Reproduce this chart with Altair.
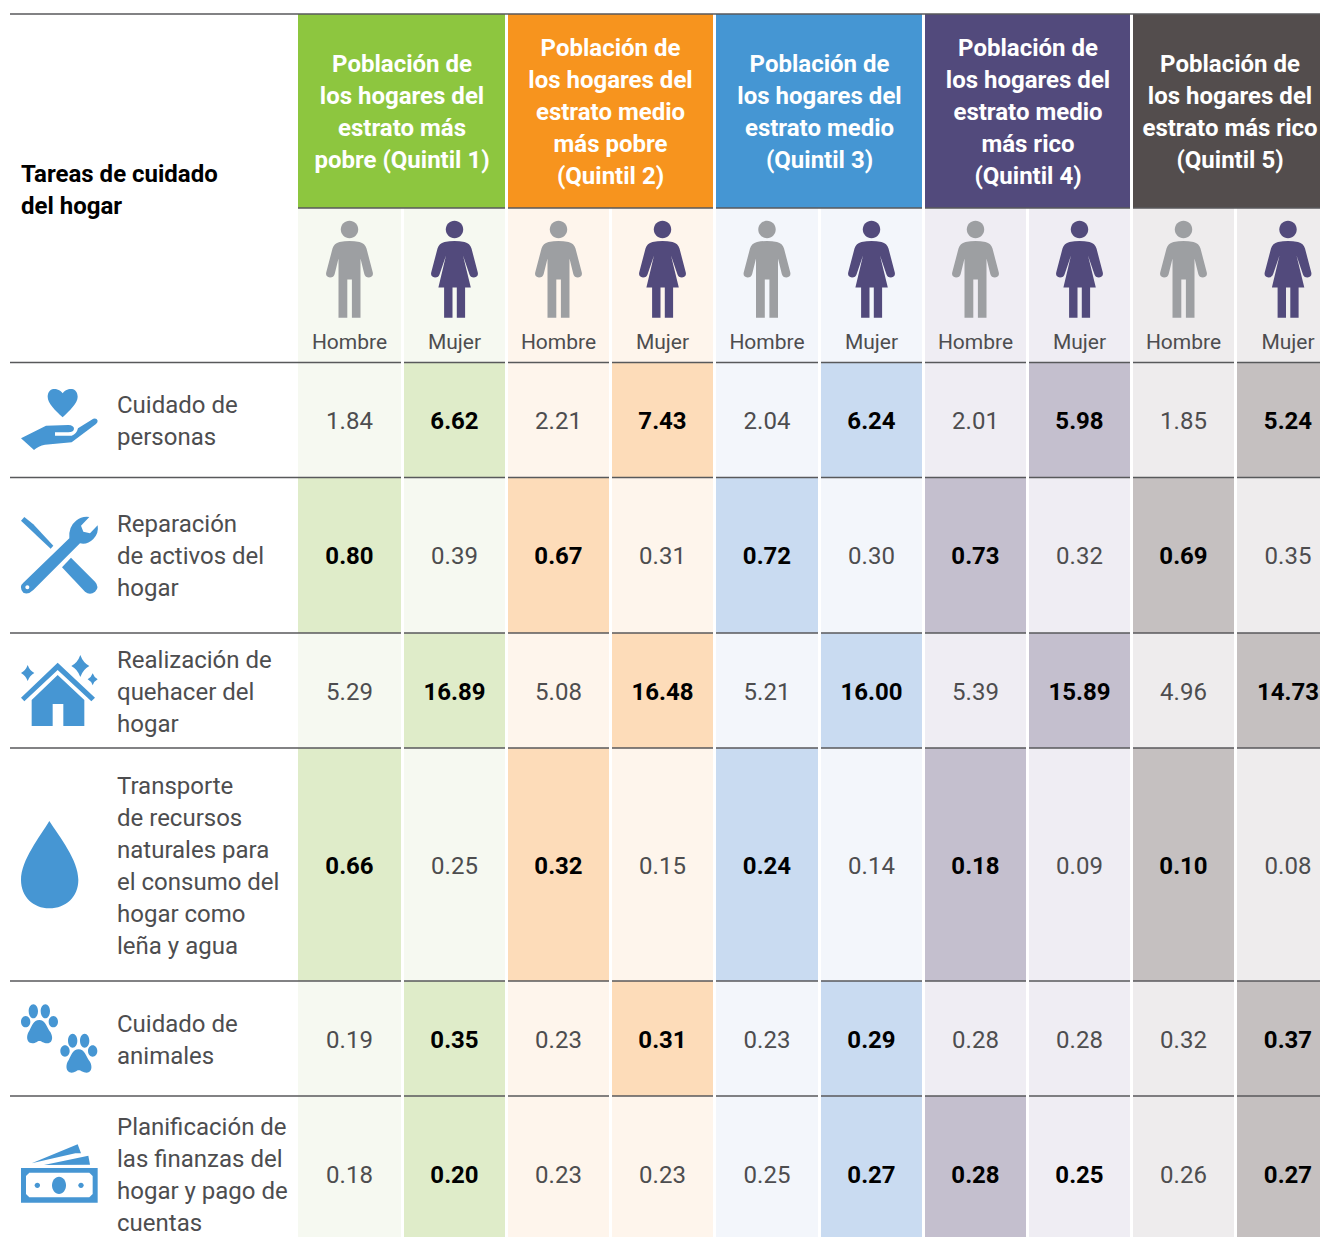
import re
import altair as alt
import pandas as pd

# ---------- content ----------
title_lines = ["Tareas de cuidado", "del hogar"]
quintile_lines = [
    ["Población de", "los hogares del", "estrato más", "pobre (Quintil 1)"],
    ["Población de", "los hogares del", "estrato medio", "más pobre", "(Quintil 2)"],
    ["Población de", "los hogares del", "estrato medio", "(Quintil 3)"],
    ["Población de", "los hogares del", "estrato medio", "más rico", "(Quintil 4)"],
    ["Población de", "los hogares del", "estrato más rico", "(Quintil 5)"],
]
sexes = ["Hombre", "Mujer"]
task_lines = [
    ["Cuidado de", "personas"],
    ["Reparación", "de activos del", "hogar"],
    ["Realización de", "quehacer del", "hogar"],
    ["Transporte", "de recursos", "naturales para", "el consumo del", "hogar como", "leña y agua"],
    ["Cuidado de", "animales"],
    ["Planificación de", "las finanzas del", "hogar y pago de", "cuentas"],
]
# rows: tasks; columns: Q1 H, Q1 M, Q2 H, Q2 M ... Q5 H, Q5 M
values = [
    [1.84, 6.62, 2.21, 7.43, 2.04, 6.24, 2.01, 5.98, 1.85, 5.24],
    [0.80, 0.39, 0.67, 0.31, 0.72, 0.30, 0.73, 0.32, 0.69, 0.35],
    [5.29, 16.89, 5.08, 16.48, 5.21, 16.00, 5.39, 15.89, 4.96, 14.73],
    [0.66, 0.25, 0.32, 0.15, 0.24, 0.14, 0.18, 0.09, 0.10, 0.08],
    [0.19, 0.35, 0.23, 0.31, 0.23, 0.29, 0.28, 0.28, 0.32, 0.37],
    [0.18, 0.20, 0.23, 0.23, 0.25, 0.27, 0.28, 0.25, 0.26, 0.27],
]
bold_extra = [(5, 7)]  # bold although it is the smaller value of its pair

# ---------- style ----------
FONT = "Roboto"
head_colors = ["#8dc63f", "#f7941e", "#4596d3", "#524a7c", "#534d4d"]
tint_colors = ["#f6f9f1", "#fef5ec", "#f3f6fb", "#efedf3", "#eeeced"]
high_colors = ["#dfecc9", "#fddcb9", "#c9dbf1", "#c4bfce", "#c5c0c0"]
ICON_BLUE = "#4696d3"
MAN = "#9d9fa2"
WOMAN = "#524a7c"
RULE = "#58595b"
TXT = "#4d4d4f"

# ---------- layout (image pixels) ----------
W, H = 1312, 1229
col_edges = [(298, 401), (404, 505), (508, 609), (612, 713), (716, 818),
             (821, 922), (925, 1026), (1029, 1130), (1133, 1234), (1237, 1328)]
group_edges = [(298, 505), (508, 713), (716, 922), (925, 1130), (1133, 1328)]
group_text_x = [402, 610.5, 819.5, 1028, 1230]
TOP, HEAD_B, SUB_B = 14, 208, 362.5
row_edges = [362.5, 477.5, 633, 748, 981, 1096, 1252]
LINE = 32
ICON_X = 59
DY = 2


def move(path, scale, x0, y0, ax, ay):
    """Rescale an icon drawn on a zoomed grid and place it relative to its anchor."""
    i = 0

    def rep(m):
        nonlocal i
        v = float(m.group(0))
        r = v * scale + (x0 - ax if i % 2 == 0 else y0 - ay)
        i += 1
        return f"{r:.2f}"

    return re.sub(r"-?[\d.]+", rep, path)


def ell(cx, cy, rx, ry=None):
    ry = rx if ry is None else ry
    k = 0.5523
    return (f"M{cx-rx} {cy} C{cx-rx} {cy-k*ry} {cx-k*rx} {cy-ry} {cx} {cy-ry} "
            f"C{cx+k*rx} {cy-ry} {cx+rx} {cy-k*ry} {cx+rx} {cy} "
            f"C{cx+rx} {cy+k*ry} {cx+k*rx} {cy+ry} {cx} {cy+ry} "
            f"C{cx-k*rx} {cy+ry} {cx-rx} {cy+k*ry} {cx-rx} {cy} Z")


def star(cx, cy, rx, ry):
    a, b = 0.3 * rx, 0.3 * ry
    return (f"M{cx} {cy-ry} Q{cx+a} {cy-b} {cx+rx} {cy} Q{cx+a} {cy+b} {cx} {cy+ry} "
            f"Q{cx-a} {cy+b} {cx-rx} {cy} Q{cx-a} {cy-b} {cx} {cy-ry} Z")


def paw(dx, dy):
    pad = ("M118 90 C100 90 95 110 88 122 C78 135 78 160 97 160 C108 160 112 153 118 153 "
           "C125 153 130 160 142 160 C160 160 160 135 148 122 C140 110 135 90 118 90 Z")
    parts = [move(pad, 1, dx, dy, 0, 0), ell(100 + dx, 64 + dy, 14, 21), ell(136 + dx, 64 + dy, 14, 21),
             ell(77 + dx, 95 + dy, 14, 17), ell(160 + dx, 95 + dy, 14, 17)]
    return " ".join(parts)


# row index, crop origin x, y, list of (path on 3x grid, fill)
icons = [
    (0, 0, 370, [
        ("M188 70 C180 58 168 57 160 57 C150 58 143 68 143 80 C143 100 165 120 188 142 "
         "C210 120 233 100 233 80 C233 68 226 58 216 57 C207 57 196 58 188 70 Z", ICON_BLUE),
        ("M63 205 L138 167 L205 165 Q222 166 222 177 Q220 187 205 187 L165 187 L165 197 L215 197 "
         "Q230 192 234 175 L280 146 Q290 143 293 152 Q293 158 288 162 L215 217 L135 224 Q115 228 102 240 Z",
         ICON_BLUE),
    ]),
    (1, 0, 370, [
        ("M63 452 L73 441 L100 463 L160 527 L152 536 L90 478 Z", ICON_BLUE),
        ("M213 563 L285 635 Q300 652 285 665 Q270 678 255 665 L186 592 Z", ICON_BLUE),
        ("M70 638 L208 505 Q205 470 228 452 Q245 438 268 441 L243 467 L250 485 L270 490 L293 466 "
         "Q297 490 280 507 Q262 525 240 520 L100 660 Q85 675 70 668 Q55 650 70 638 Z", ICON_BLUE),
        (ell(82, 652, 6), "#ffffff"),
    ]),
    (2, 0, 640, [
        (star(83, 99, 20, 24), ICON_BLUE),
        (star(241, 78, 27, 33), ICON_BLUE),
        (star(278, 118, 15, 18), ICON_BLUE),
        ("M173 68 L285 173 L274 184 L173 90 L73 184 L63 173 Z", ICON_BLUE),
        ("M173 105 L253 180 L253 258 L190 258 L190 192 L158 192 L158 258 L95 258 L95 180 Z", ICON_BLUE),
    ]),
    (3, 0, 640, [
        ("M148 543 C120 590 63 660 63 720 C63 770 100 805 148 805 C198 805 235 770 235 720 "
         "C235 660 178 590 148 543 Z", ICON_BLUE),
    ]),
    (4, 0, 990, [
        (paw(0, 0), ICON_BLUE),
        (paw(118, 88), ICON_BLUE),
    ]),
    (5, 0, 990, [
        ("M95 520 L233 463 L243 490 L226 490 L160 505 Z", ICON_BLUE),
        ("M132 525 L265 497 L270 524 Z", ICON_BLUE),
        ("M63 534 L293 534 L293 638 L63 638 Z", ICON_BLUE),
        ("M88 548 L268 548 L278 558 L278 612 L268 622 L88 622 L78 612 L78 558 Z", "#ffffff"),
        (ell(177, 586, 21, 26), ICON_BLUE),
        (ell(112, 586, 8), ICON_BLUE),
        (ell(243, 586, 8), ICON_BLUE),
    ]),
]

# people, on a pixel grid relative to the column centre and the head centre
MAN_BODY = ("M-10 12.6 Q0 10.4 10 12.6 Q15.5 14 17 19 L23.3 43 Q24.2 47.6 19.5 48 Q15.8 48 14.8 44.5 L11 29 "
            "L11 88.3 L2.4 88.3 L2.4 50 L-2.2 50 L-2.2 88.3 L-11 88.3 L-11 29 L-14.8 44.5 Q-15.8 48 -19.5 48 "
            "Q-24.2 47.6 -23.3 43 L-17 19 Q-15.5 14 -10 12.6 Z")
WOMAN_BODY = ("M-10 12.6 Q0 10.4 10 12.6 Q15.5 14 17 19 L23.3 43 Q24.2 47.6 19.5 48 Q15.8 48 14.8 44.5 L8.5 26 "
              "L16.3 58 L10.6 58 L10.6 88.3 L2.3 88.3 L2.3 58 L-2 58 L-2 88.3 L-10.4 88.3 L-10.4 58 L-16.1 58 "
              "L-8.5 26 L-14.8 44.5 Q-15.8 48 -19.5 48 Q-24.2 47.6 -23.3 43 L-17 19 Q-15.5 14 -10 12.6 Z")
HEAD = ell(0, 0, 8.7)
PERSON_Y = 229.5

# ---------- tables ----------
rects, rules, texts, marks = [], [], [], []


def add_text(x, y, t, color, size, weight, align="center"):
    texts.append(dict(x=x, y=y, t=t, c=color, s=size, w=weight, a=align))


def add_block(x, cy, lines, color, size, weight, align="center"):
    n = len(lines)
    for i, t in enumerate(lines):
        add_text(x, cy + (i - (n - 1) / 2) * LINE, t, color, size, weight, align)


# header
for g, (a, b) in enumerate(group_edges):
    rects.append(dict(x=a, x2=b, y=TOP, y2=HEAD_B, c=head_colors[g]))
    add_block(group_text_x[g], (TOP + HEAD_B) / 2 + DY, quintile_lines[g], "#ffffff", 24, 700)
add_block(21, 191, title_lines, "#000000", 24, 700, "left")

data_long = []
for c, (a, b) in enumerate(col_edges):
    g = c // 2
    rects.append(dict(x=a, x2=b, y=HEAD_B, y2=SUB_B, c=tint_colors[g]))
    cx = (a + b) / 2 if c < 9 else 1288
    add_text(cx, 343, sexes[c % 2], TXT, 21, 400)
    col = MAN if c % 2 == 0 else WOMAN
    body = MAN_BODY if c % 2 == 0 else WOMAN_BODY
    marks.append(dict(x=cx, y=PERSON_Y, p=HEAD, c=col))
    marks.append(dict(x=cx, y=PERSON_Y, p=body, c=col))
    for r, row in enumerate(values):
        v = row[c]
        other = row[c + 1 if c % 2 == 0 else c - 1]
        high = v > other
        bold = high or (r, c) in bold_extra
        y0, y1 = row_edges[r], row_edges[r + 1]
        rects.append(dict(x=a, x2=b, y=y0, y2=y1, c=high_colors[g] if high else tint_colors[g]))
        data_long.append(dict(x=cx, y=(y0 + y1) / 2 + DY, v=v, c="#000000" if bold else TXT,
                              w=700 if bold else 400))

for r, lines in enumerate(task_lines):
    add_block(117, (row_edges[r] + row_edges[r + 1]) / 2 + DY, lines, TXT, 24, 400, "left")

# rules
rules.append(dict(x=10, x2=1328, y=TOP))
for a, b in group_edges:
    rules.append(dict(x=a, x2=b, y=HEAD_B))
for y in row_edges[:-1]:
    rules.append(dict(x=10, x2=401, y=y))
    for a, b in col_edges[1:]:
        rules.append(dict(x=a, x2=b, y=y))

# icons
for r, x0, y0, parts in icons:
    cy = (row_edges[r] + row_edges[r + 1]) / 2
    for path, fill in parts:
        marks.append(dict(x=ICON_X, y=cy, p=move(path, 1 / 3, x0, y0, ICON_X, cy), c=fill))

# ---------- chart ----------
xs = alt.Scale(domain=[8, 8 + W], range=[0, W], nice=False, zero=False)
ys = alt.Scale(domain=[8, 8 + H], range=[0, H], nice=False, zero=False)
X = alt.X("x:Q", scale=xs, axis=None)
Y = alt.Y("y:Q", scale=ys, axis=None)
C = alt.Color("c:N", scale=None, legend=None)

rect_layer = alt.Chart(pd.DataFrame(rects)).mark_rect(strokeWidth=0).encode(
    x=X, x2="x2:Q", y=Y, y2="y2:Q", color=C)
rule_layer = alt.Chart(pd.DataFrame(rules)).mark_rule(color=RULE, strokeWidth=1.5).encode(
    x=X, x2="x2:Q", y=Y)
icon_layer = alt.Chart(pd.DataFrame(marks)).mark_point(filled=True, opacity=1, strokeWidth=0).encode(
    x=X, y=Y, color=C, shape=alt.Shape("p:N", scale=None, legend=None), size=alt.value(4))

layers = [rect_layer, rule_layer, icon_layer]
tdf = pd.DataFrame(texts)
for (s, w, a), grp in tdf.groupby(["s", "w", "a"]):
    layers.append(alt.Chart(grp).mark_text(font=FONT, fontSize=float(s), fontWeight=int(w), align=a,
                                           baseline="middle").encode(
        x=X, y=Y, text="t:N", color=C))
vdf = pd.DataFrame(data_long)
for w, grp in vdf.groupby("w"):
    layers.append(alt.Chart(grp).mark_text(font=FONT, fontSize=24, fontWeight=int(w), align="center",
                                           baseline="middle").encode(
        x=X, y=Y, text=alt.Text("v:Q", format=".2f"), color=C))

chart = alt.layer(*layers).properties(
    width=W, height=H, padding=0, autosize=alt.AutoSizeParams(type="none"), background="#ffffff"
).configure_view(stroke=None)

chart.save("out.html", embed_options={"renderer": "svg", "actions": False})
